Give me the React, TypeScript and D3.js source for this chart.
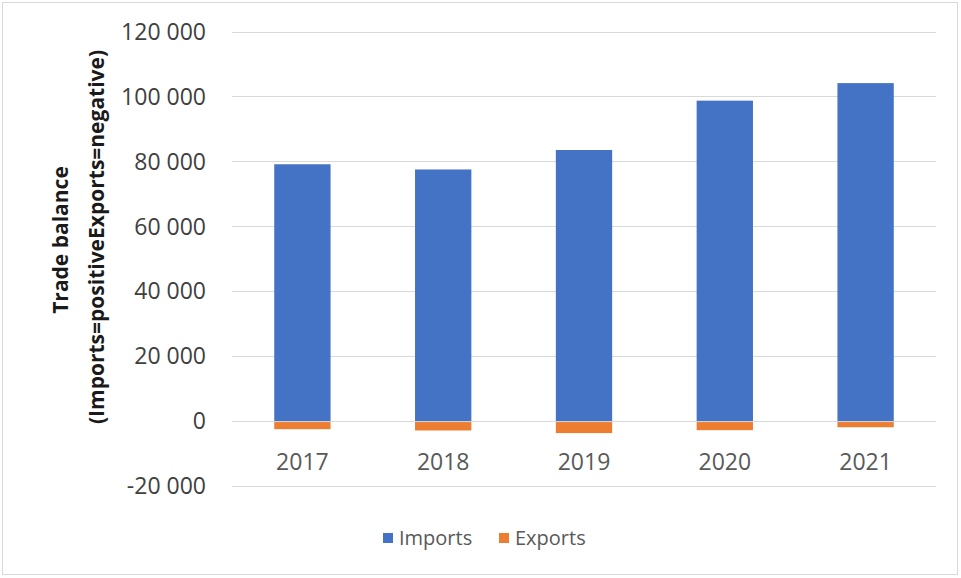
import React from "react";
import * as d3 from "d3";

const years = ["2017", "2018", "2019", "2020", "2021"];
const imports = [79100, 77500, 83500, 98700, 104100];
const exports = [-2500, -2900, -3700, -2800, -1900];
const yTicks = [-20000, 0, 20000, 40000, 60000, 80000, 100000, 120000];
const seriesNames = ["Imports", "Exports"];
const seriesColors = ["#4472C4", "#ED7D31"];

const W = 961;
const H = 578;

export default function App() {
  const x = d3.scaleBand<string>().domain(years).range([232, 936]).paddingInner(0.6).paddingOuter(0.3);
  const y = d3.scaleLinear().domain([-20000, 120000]).range([486, 31.5]);
  const fmt = (v: number) => d3.format(",")(v).replace(/,/g, " ").replace("−", "-");
  const font = "'Open Sans', sans-serif";
  return (
    <svg width={W} height={H} style={{ position: "absolute", left: 0, top: 0, background: "#fff" }}>
      <rect x={2.5} y={2.5} width={955} height={572} fill="#fff" stroke="#D9D9D9" strokeWidth={1} />
      {yTicks.map((t) => (
        <g key={t}>
          <line x1={232} x2={936} y1={Math.round(y(t)) + 0.5} y2={Math.round(y(t)) + 0.5} stroke="#D9D9D9" strokeWidth={1} />
          <text x={206} y={y(t)} dy="0.36em" textAnchor="end" fontFamily={font} fontSize={23} fill="#404040">
            {fmt(t)}
          </text>
        </g>
      ))}
      {years.map((yr, i) => (
        <g key={yr}>
          <rect x={x(yr)} y={y(imports[i])} width={x.bandwidth()} height={y(0) - y(imports[i])} fill={seriesColors[0]} />
          <rect x={x(yr)} y={y(0) + 1} width={x.bandwidth()} height={y(exports[i]) - y(0) - 1} fill={seriesColors[1]} />
          <text x={(x(yr) as number) + x.bandwidth() / 2} y={462} dy="0.36em" textAnchor="middle" fontFamily={font} fontSize={23} fill="#595959">
            {yr}
          </text>
        </g>
      ))}
      <g transform="translate(60,240) rotate(-90)">
        <text textAnchor="middle" dy="0.36em" fontFamily={font} fontSize={21} fontWeight="bold" fill="#1a1a1a">
          Trade balance
        </text>
      </g>
      <g transform="translate(96,237) rotate(-90)">
        <text textAnchor="middle" dy="0.36em" fontFamily={font} fontSize={21} fontWeight="bold" fill="#1a1a1a">
          (Imports=positiveExports=negative)
        </text>
      </g>
      {seriesNames.map((n, i) => {
        const lx = i === 0 ? 383 : 499;
        return (
          <g key={n}>
            <rect x={lx} y={533} width={10} height={10} fill={seriesColors[i]} />
            <text x={lx + 16} y={538} dy="0.36em" fontFamily={font} fontSize={20} fill="#595959">
              {n}
            </text>
          </g>
        );
      })}
    </svg>
  );
}
